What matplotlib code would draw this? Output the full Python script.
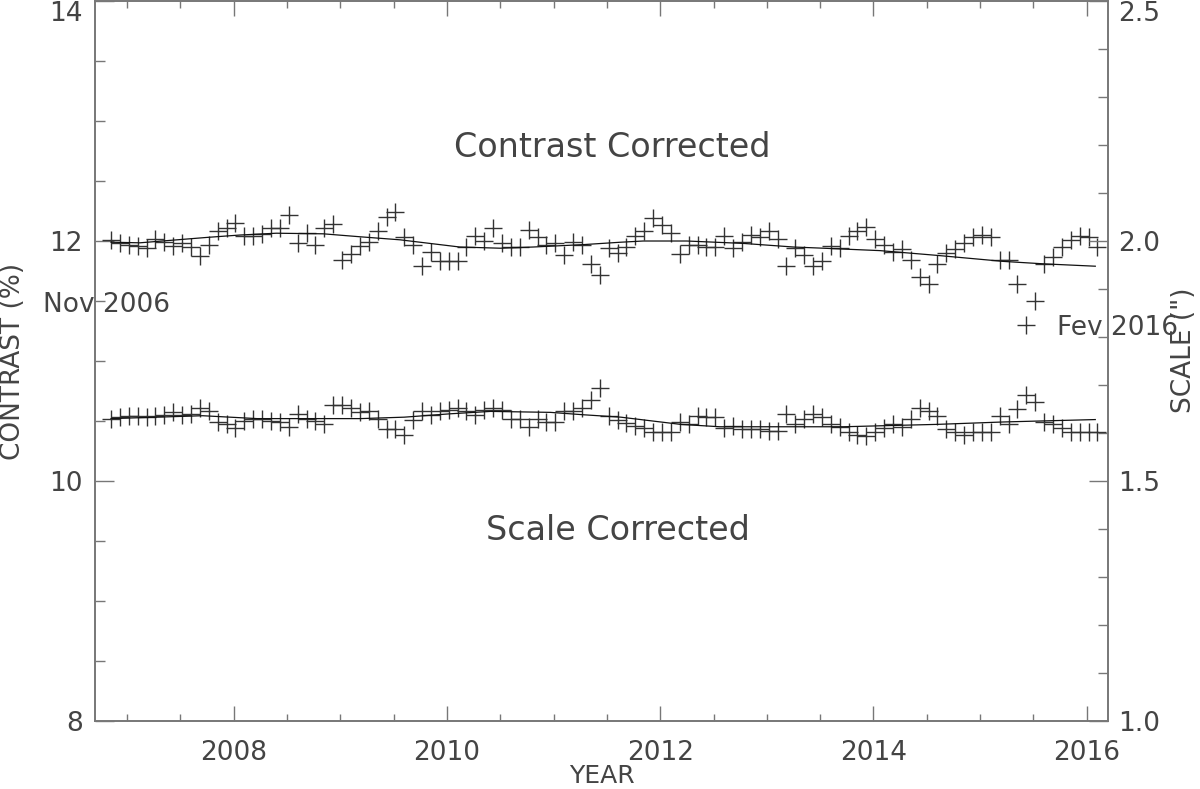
import matplotlib
matplotlib.use("Agg")
import matplotlib.pyplot as plt
import numpy as np
import pandas as pd
from matplotlib.ticker import MultipleLocator, FormatStrFormatter

# monthly samples, Nov 2006 .. Feb 2016
months = pd.date_range("2006-11-01", "2016-02-01", freq="MS")
years = months.year + (months.month - 1 + 0.2) / 12.0

# contrast corrected (%), left axis
contrast = [
    12.01, 11.98, 11.97, 11.96, 11.94, 12.02, 11.99, 11.96, 11.98, 11.95,
    11.875, 11.97, 12.08, 12.11, 12.15, 12.04, 12.04, 12.06, 12.11, 12.11,
    12.22, 11.98, 12.07, 11.97, 12.11, 12.14, 11.84, 11.89, 11.96, 11.99,
    12.08, 12.20, 12.24, 12.03, 11.97, 11.79, 11.91, 11.83, 11.83, 11.83,
    11.95, 12.04, 12.00, 12.11, 11.98, 11.95, 11.95, 12.09, 12.03, 11.97,
    11.98, 11.88, 11.99, 11.97, 11.81, 11.72, 11.94, 11.90, 11.95, 12.04,
    12.08, 12.19, 12.13, 12.07, 11.89, 11.97, 11.97, 11.95, 11.95, 12.04,
    11.94, 11.99, 12.05, 12.03, 12.08, 12.02, 11.79, 11.94, 11.88, 11.79,
    11.83, 11.96, 11.94, 12.04, 12.08, 12.12, 12.02, 11.97, 11.91, 11.93,
    11.84, 11.70, 11.64, 11.81, 11.90, 11.93, 11.98, 12.03, 12.05, 12.03,
    11.84, 11.84, 11.64, 11.30, 11.50, 11.81, 11.87, 11.95, 12.01, 12.04,
    12.03, 11.95,
]

# scale corrected ("), right axis
scale = [
    1.630, 1.633, 1.635, 1.635, 1.633, 1.635, 1.638, 1.643, 1.638, 1.640,
    1.653, 1.645, 1.623, 1.618, 1.610, 1.625, 1.630, 1.630, 1.625, 1.623,
    1.613, 1.640, 1.630, 1.625, 1.618, 1.658, 1.658, 1.653, 1.643, 1.645,
    1.630, 1.608, 1.608, 1.595, 1.628, 1.645, 1.638, 1.645, 1.648, 1.653,
    1.645, 1.638, 1.648, 1.653, 1.648, 1.630, 1.630, 1.613, 1.630, 1.623,
    1.623, 1.645, 1.645, 1.653, 1.668, 1.693, 1.635, 1.628, 1.620, 1.615,
    1.610, 1.603, 1.603, 1.603, 1.623, 1.618, 1.635, 1.633, 1.633, 1.610,
    1.615, 1.608, 1.608, 1.608, 1.605, 1.605, 1.640, 1.618, 1.630, 1.640,
    1.633, 1.618, 1.613, 1.603, 1.595, 1.593, 1.603, 1.610, 1.618, 1.613,
    1.630, 1.653, 1.645, 1.635, 1.608, 1.603, 1.595, 1.603, 1.603, 1.603,
    1.635, 1.618, 1.650, 1.680, 1.665, 1.623, 1.618, 1.610, 1.603, 1.603,
    1.603, 1.603,
]

fit_c_years = [2006.85, 2007.12, 2007.75, 2008.06, 2008.40, 2008.84, 2009.19,
               2009.56, 2010.12, 2010.50, 2010.81, 2011.28, 2011.63, 2011.84,
               2012.25, 2012.78, 2013.25, 2013.53, 2014.06, 2014.60, 2015.22,
               2015.59, 2016.08]
fit_c = [11.99, 11.985, 12.03, 12.05, 12.065, 12.06, 12.035, 12.01, 11.95,
         11.94, 11.95, 11.97, 11.99, 12.0, 12.0, 11.98, 11.95, 11.94, 11.92,
         11.88, 11.83, 11.81, 11.79]

fit_s_years = [2006.85, 2007.28, 2007.71, 2008.22, 2008.84, 2009.19, 2009.60,
               2010.03, 2010.41, 2010.97, 2011.28, 2011.63, 2012.19, 2012.56,
               2013.10, 2013.72, 2014.06, 2014.60, 2015.22, 2015.56, 2016.08]
fit_s = [1.630, 1.633, 1.636, 1.630, 1.630, 1.630, 1.633, 1.640, 1.645, 1.643,
         1.638, 1.633, 1.618, 1.613, 1.613, 1.613, 1.615, 1.618, 1.623, 1.625,
         1.628]

contrast_ticks = [8, 10, 12, 14]
scale_ticks = [1.0, 1.5, 2.0, 2.5]
year_ticks = [2008, 2010, 2012, 2014, 2016]

AX = "#777777"
TXT = "#444444"
FS = 19

plt.rcParams["font.family"] = ["DejaVu Sans"]

fig = plt.figure(figsize=(12, 7.89), dpi=100)
ax = fig.add_axes([0.0792, 0.0862, 0.8442, 0.9125])
ax2 = ax.twinx()

ax.plot(years, contrast, "+", ms=13.5, mew=1.0, color="#333333", clip_on=False)
ax.plot(fit_c_years, fit_c, "-", lw=0.9, color="#111111")
ax2.plot(years, scale, "+", ms=13.5, mew=1.0, color="#333333", clip_on=False)
ax2.plot(fit_s_years, fit_s, "-", lw=0.9, color="#111111")

ax.set_xlim(2006.7, 2016.2)
ax.set_ylim(8, 14)
ax2.set_ylim(1.0, 2.5)

ax.set_xticks(year_ticks)
ax.xaxis.set_minor_locator(MultipleLocator(0.5))
ax.set_yticks(contrast_ticks)
ax.yaxis.set_minor_locator(MultipleLocator(0.5))
ax2.set_yticks(scale_ticks)
ax2.yaxis.set_minor_locator(MultipleLocator(0.1))
ax2.yaxis.set_major_formatter(FormatStrFormatter("%.1f"))

ax.tick_params(axis="x", which="major", direction="in", length=11, width=1,
               color=AX, top=True, labelsize=FS, labelcolor=TXT, pad=14)
ax.tick_params(axis="x", which="minor", direction="in", length=5, width=1,
               color=AX, top=True)
ax.tick_params(axis="y", which="major", direction="in", length=14, width=1,
               color=AX, labelsize=FS, labelcolor=TXT, pad=9)
ax.tick_params(axis="y", which="minor", direction="in", length=7, width=1, color=AX)
ax2.tick_params(axis="y", which="major", direction="in", length=14, width=1,
                color=AX, labelsize=FS, labelcolor=TXT, pad=7)
ax2.tick_params(axis="y", which="minor", direction="in", length=7, width=1, color=AX)

for a in (ax, ax2):
    for s in a.spines.values():
        s.set_color(AX)
        s.set_linewidth(1.2)

ax.set_xlabel("YEAR", fontsize=18, color=TXT)
ax.xaxis.set_label_coords(0.5, -0.06)
ax.set_ylabel("CONTRAST (%)", fontsize=FS, color=TXT)
ax.yaxis.set_label_coords(-0.068, 0.5)
ax2.set_ylabel('SCALE (")', fontsize=FS, color=TXT)
ax2.yaxis.set_label_coords(1.062, 0.515)

ax.text(2011.55, 12.78, "Contrast Corrected", fontsize=24, color=TXT,
        ha="center", va="center")
ax2.text(2011.6, 1.397, "Scale Corrected", fontsize=24, color=TXT,
         ha="center", va="center")
ax.text(2006.21, 11.47, "Nov 2006", fontsize=FS, color=TXT,
        ha="left", va="center", clip_on=False)
ax.text(2015.72, 11.275, "Fev 2016", fontsize=FS, color=TXT,
        ha="left", va="center", clip_on=False)

# keep the top tick labels inside the figure
ax.yaxis.get_major_ticks()[-1].label1.set_va("top")
ax2.yaxis.get_major_ticks()[-1].label2.set_va("top")

fig.savefig("out.png", dpi=100)
